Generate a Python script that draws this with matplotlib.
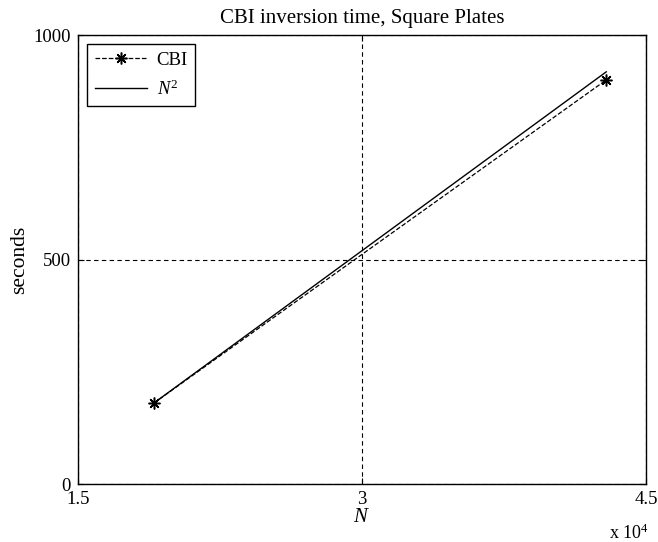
import matplotlib
matplotlib.use("Agg")
from matplotlib import pyplot as plt
from matplotlib.ticker import FuncFormatter

plt.rcParams["font.family"] = "Liberation Serif"
plt.rcParams["mathtext.fontset"] = "custom"
plt.rcParams["mathtext.rm"] = "Liberation Serif"
plt.rcParams["mathtext.it"] = "Liberation Serif:italic"

# data
n_values = [19000, 42900]
cbi_seconds = [180, 900]
n2_seconds = [180, 918]

x_ticks = [15000, 30000, 45000]
y_ticks = [0, 500, 1000]

fig = plt.figure(figsize=(6.58, 5.42), dpi=100)
ax = fig.add_axes([0.1185, 0.107, 0.8633, 0.8284])

ax.plot(n_values, cbi_seconds, "k--", marker=(8, 2, 0), markersize=8.5, markeredgewidth=1.1,
        linewidth=0.9, label="CBI")
ax.plot(n_values, n2_seconds, "k-", linewidth=1.0, label="$N^2$")

ax.set_xlim(15000, 45000)
ax.set_ylim(0, 1000)
ax.set_xticks(x_ticks)
ax.set_yticks(y_ticks)
ax.xaxis.set_major_formatter(FuncFormatter(lambda v, p: "%g" % (v / 1e4)))
ax.tick_params(direction="in", top=True, right=True, labelsize=13.5, length=4)
ax.tick_params(axis="x", pad=5)
ax.tick_params(axis="y", pad=5)
ax.grid(True, linestyle="--", color="black", linewidth=0.8, dashes=(4, 3))

for s in ax.spines.values():
    s.set_linewidth(1.0)

ax.set_title("CBI inversion time, Square Plates", fontsize=15, pad=9)
ax.set_xlabel("$N$", fontsize=15, labelpad=0)
ax.set_ylabel("seconds", fontsize=15.5, labelpad=3)
fig.text(0.925, 0.006, "x 10$^4$", fontsize=13)

leg = ax.legend(loc="upper left", fontsize=13.5, handlelength=2.8, handletextpad=0.5,
                labelspacing=0.55, fancybox=False, edgecolor="black", framealpha=1,
                borderaxespad=0.5, borderpad=0.4)
leg.get_frame().set_linewidth(1.0)

fig.savefig("out.png", dpi=100)
